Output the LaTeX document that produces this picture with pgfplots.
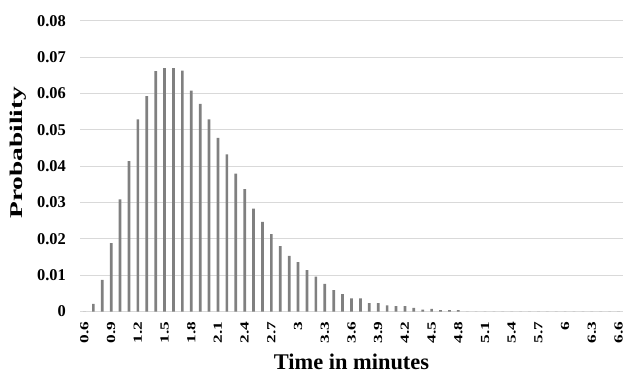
\documentclass[border=0pt]{standalone}
\usepackage{pgfplots}
\pgfplotsset{compat=1.18}
\usepackage{fontspec}
\setmainfont{Liberation Serif}
\newfontfamily\tickfont[FakeStretch=1.4]{Liberation Serif}
\newfontfamily\ylabfont[FakeStretch=1.53]{Liberation Serif}
\definecolor{bargray}{RGB}{128,128,128}
\definecolor{gridgray}{RGB}{217,217,217}
\pgfplotstableread{
x y
0.6 0
0.7 0.0021
0.8 0.0087
0.9 0.0188
1.0 0.0309
1.1 0.0414
1.2 0.0529
1.3 0.0593
1.4 0.0662
1.5 0.0670
1.6 0.0670
1.7 0.0663
1.8 0.0608
1.9 0.0572
2.0 0.0529
2.1 0.0478
2.2 0.0433
2.3 0.0380
2.4 0.0337
2.5 0.0283
2.6 0.0247
2.7 0.0213
2.8 0.0180
2.9 0.0153
3.0 0.0136
3.1 0.0114
3.2 0.0096
3.3 0.0076
3.4 0.0059
3.5 0.0048
3.6 0.0036
3.7 0.0036
3.8 0.0023
3.9 0.0023
4.0 0.0017
4.1 0.0015
4.2 0.0015
4.3 0.0010
4.4 0.0005
4.5 0.0007
4.6 0.0004
4.7 0.0004
4.8 0.0004
4.9 0
5.0 0
5.1 0
5.2 0
5.3 0
5.4 0
5.5 0
5.6 0
5.7 0
5.8 0
5.9 0
6.0 0
6.1 0
6.2 0
6.3 0
6.4 0
6.5 0
6.6 0
}\datatable
\begin{document}
\begin{tikzpicture}
\path[use as bounding box] (0,0) rectangle (624bp,373bp);
\begin{axis}[
  at={(80bp,61.5bp)}, anchor=south west,
  scale only axis,
  width=543bp, height=290.5bp,
  xmin=0.55, xmax=6.65,
  ymin=0, ymax=0.08,
  enlargelimits=false,
  scaled y ticks=false, scaled x ticks=false,
  ybar, bar width=2.7bp,
  axis line style={draw=none},
  major tick length=0pt,
  ymajorgrids,
  grid style={gridgray, line width=1bp},
  ytick={0,0.01,0.02,0.03,0.04,0.05,0.06,0.07,0.08},
  yticklabels={0,0.01,0.02,0.03,0.04,0.05,0.06,0.07,0.08},
  xtick={0.6,0.9,1.2,1.5,1.8,2.1,2.4,2.7,3.0,3.3,3.6,3.9,4.2,4.5,4.8,5.1,5.4,5.7,6.0,6.3,6.6},
  xticklabels={0.6,0.9,1.2,1.5,1.8,2.1,2.4,2.7,3,3.3,3.6,3.9,4.2,4.5,4.8,5.1,5.4,5.7,6,6.3,6.6},
  yticklabel style={font=\fontsize{16.5}{16.5}\selectfont\bfseries, anchor=east, inner sep=0pt, xshift=-14bp},
  xticklabel style={font=\tickfont\fontsize{12.4}{12.4}\selectfont\bfseries, yshift=-10bp, rotate=90, anchor=east, inner sep=0pt},
  xlabel={Time in minutes},
  xlabel style={font=\fontsize{22.5}{22.5}\selectfont\bfseries, at={(axis description cs:0.5,-0.198)}, anchor=base, inner sep=0pt},
  ylabel={Probability},
  ylabel style={font=\ylabfont\fontsize{18}{18}\selectfont\bfseries, at={(axis description cs:-0.105,0.547)}, anchor=base, inner sep=0pt},
]
\addplot[fill=bargray, draw=none] table[x=x, y=y] {\datatable};
\end{axis}
\end{tikzpicture}
\end{document}
